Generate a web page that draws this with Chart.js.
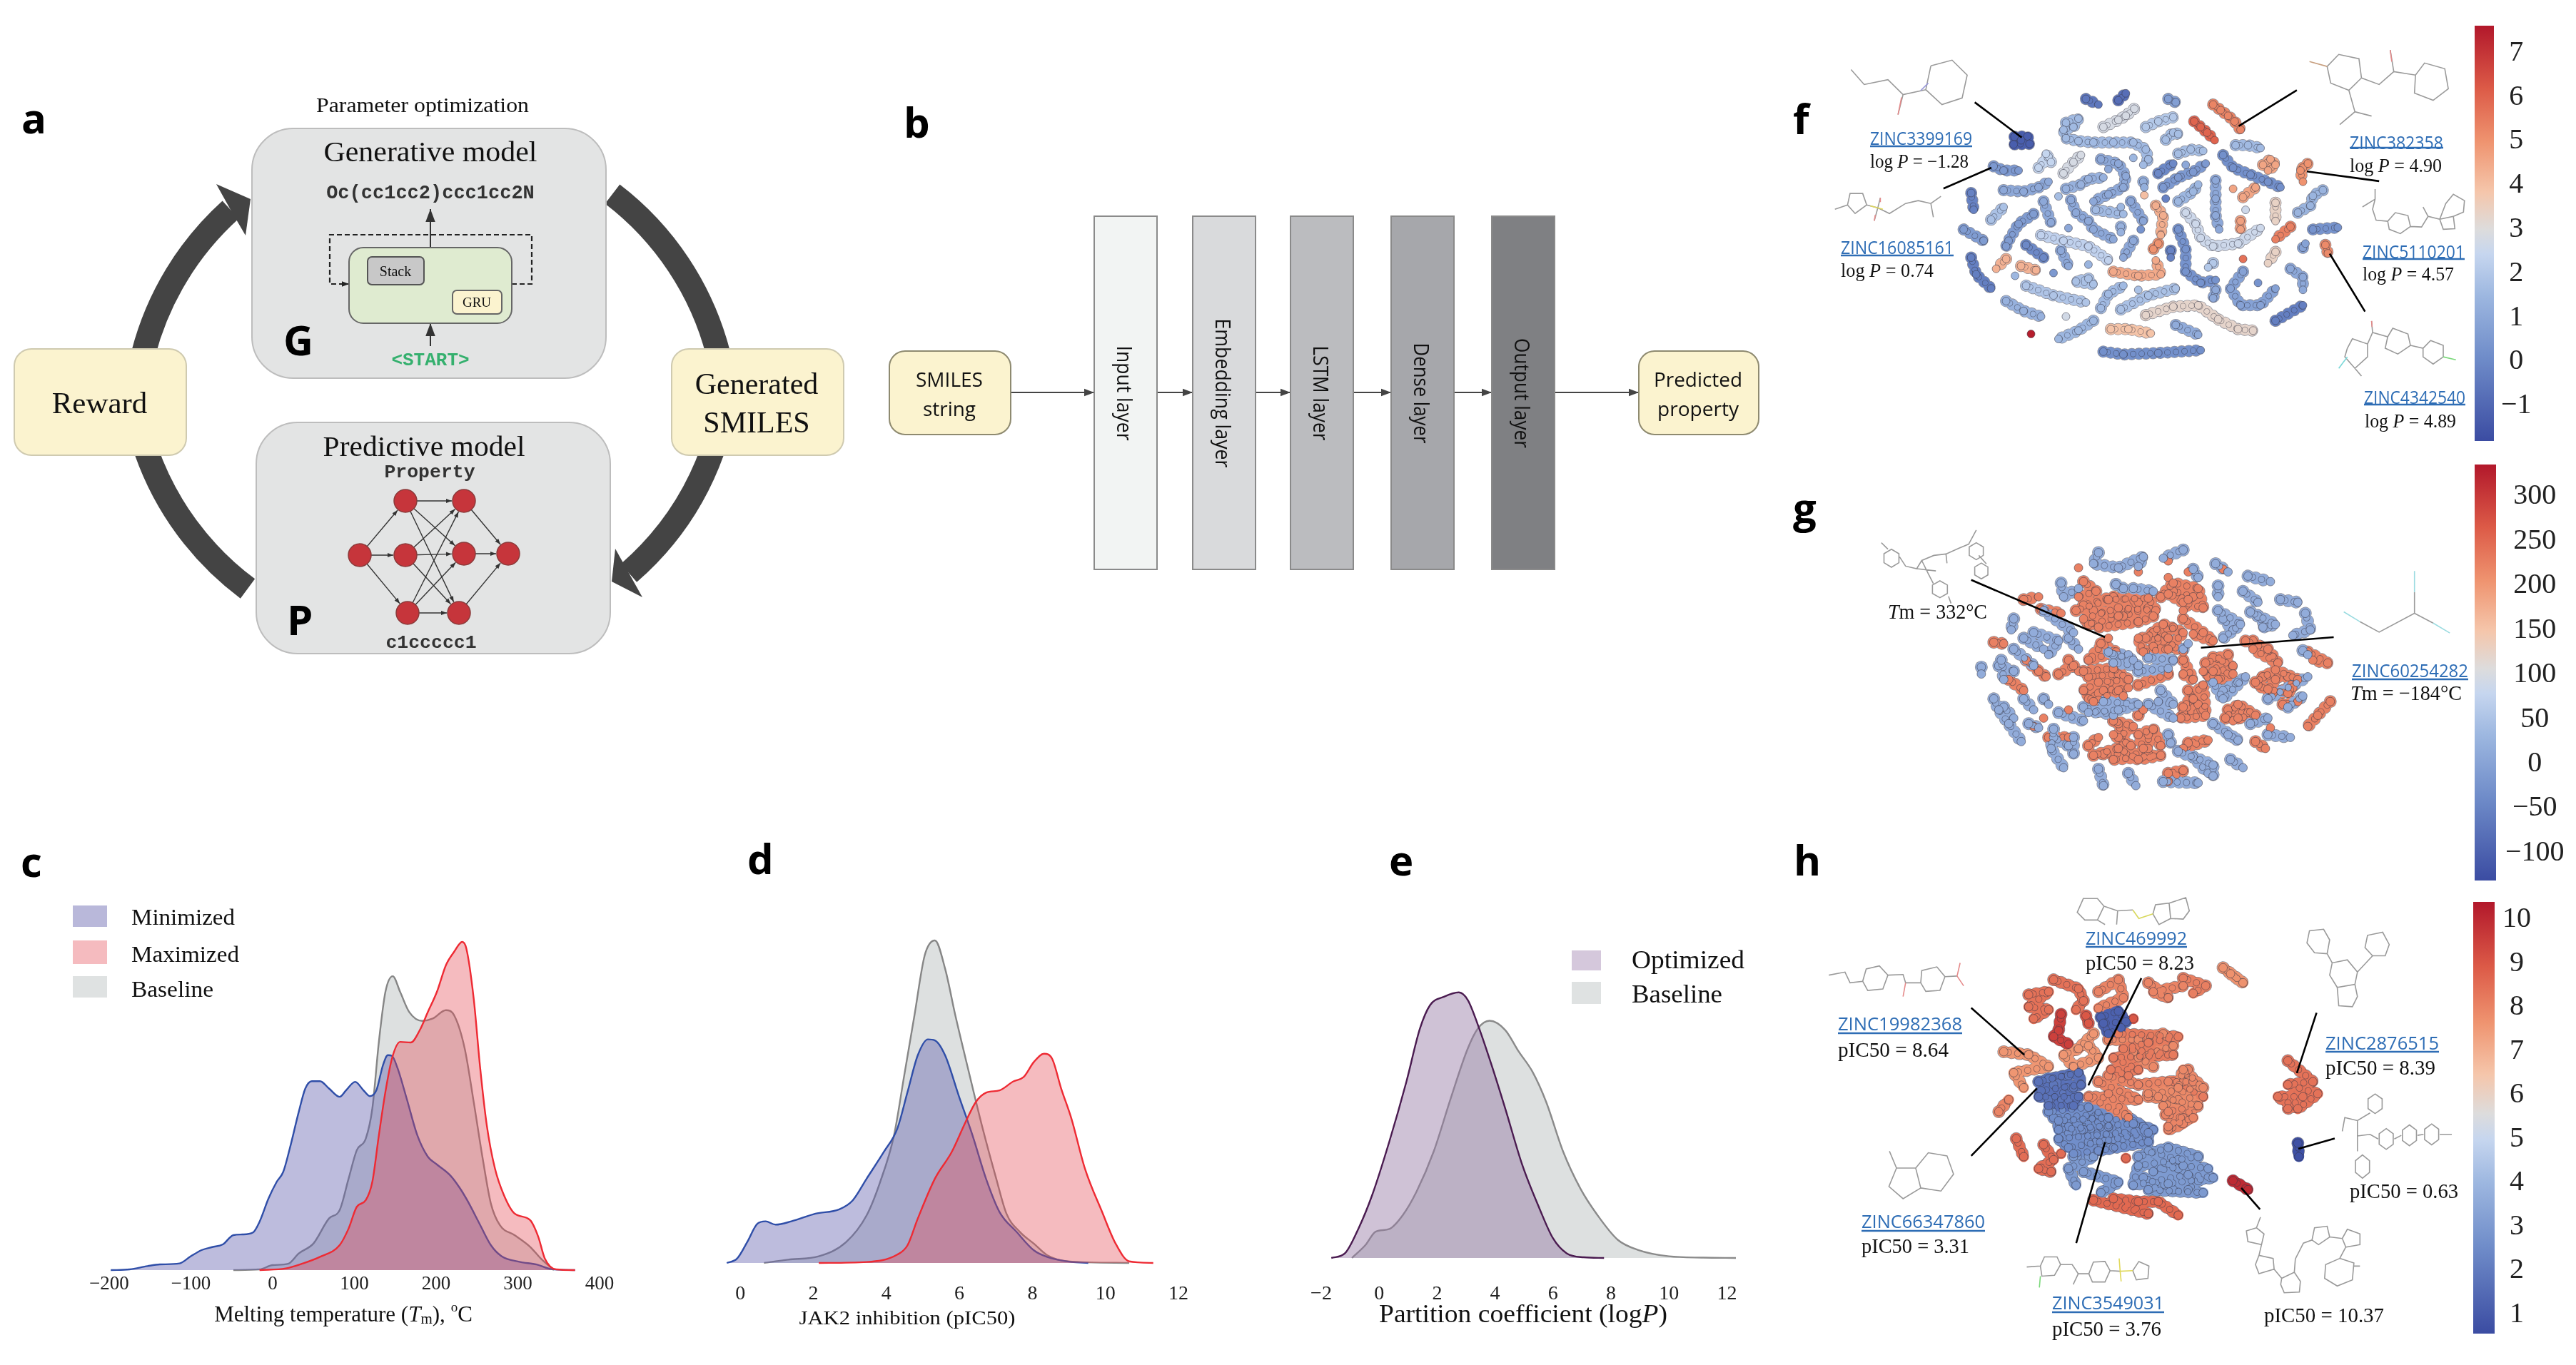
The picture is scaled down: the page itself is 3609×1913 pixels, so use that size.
<!DOCTYPE html>
<html>
<head>
<meta charset="utf-8">
<title>Generative model figure</title>
<script src="https://cdn.jsdelivr.net/npm/chart.js@4/dist/chart.umd.min.js"></script>
<style>
  html, body { margin: 0; background: #fff; }
  #root { position: relative; width: 3609px; height: 1913px; overflow: hidden; }
  #root canvas { position: absolute; }
  #overlay { position: absolute; left: 0; top: 0; pointer-events: none; }
  .mol * { vector-effect: non-scaling-stroke; }
</style>
</head>
<body>
<div id="root"><svg id="overlay" width="3609" height="1913" viewBox="0 0 3609 1913" xmlns="http://www.w3.org/2000/svg"></svg></div>
<script>
// panel c: melting temperature densities
const cTicks = [-200, -100, 0, 100, 200, 300, 400];
const cMinX = [-198,-175,-153,-138,-114,-101,-87,-74,-61,-48,-37,-24,-16,-5,5,13,21,32,40,48,58,69,82,90,101,111,119,127,135,141,146,153,164,177,190,201,217,228,238,254,267,280,302,323,341,370];
const cMinY = [0,2,12,17,20,40,60,69,77,105,107,113,145,215,265,295,365,475,545,567,567,545,520,540,565,540,522,540,615,645,643,605,515,405,340,317,285,250,210,135,75,42,25,17,3,0];
const cMaxX = [-16,16,37,58,82,93,103,114,122,130,138,146,156,169,180,190,201,212,222,232,237,246,254,262,272,283,296,315,325,333,347,370];
const cMaxY = [0,5,20,40,75,125,190,210,265,405,535,635,685,683,720,775,835,915,955,985,965,815,605,435,305,225,170,150,100,35,2,0];
const cBaseX = [-48,-16,0,19,32,50,69,82,93,103,114,122,130,138,147,156,167,183,196,212,222,235,246,257,267,278,296,315,328,344];
const cBaseY = [0,2,15,19,50,80,155,180,275,360,395,485,685,835,882,835,775,748,755,780,765,665,505,335,200,135,105,70,35,0];

// panel d: JAK2 inhibition densities
const dTicks = [0, 2, 4, 6, 8, 10, 12];
const dMinX = [-0.37,-0.09,0.19,0.47,0.69,0.97,1.4,2.06,2.71,3.08,3.46,3.93,4.3,4.58,4.86,5.14,5.33,5.61,5.98,6.36,6.73,7.1,7.57,8.04,8.41,9.07,9.53];
const dMinY = [0,13,63,118,125,115,125,148,161,188,253,333,403,513,623,671,668,623,503,383,253,153,93,38,18,3,0];
const dMaxX = [2.15,3.46,4.3,4.58,4.86,5.33,5.79,6.17,6.45,6.73,7.1,7.48,7.76,8.04,8.32,8.54,8.79,9.07,9.44,9.91,10.28,10.65,11.31];
const dMaxY = [0,3,25,53,133,253,333,423,483,511,518,545,558,603,628,613,523,433,283,153,58,5,0];
const dBaseX = [0.65,1.31,2.15,2.9,3.46,3.83,4.21,4.49,4.77,5.05,5.33,5.61,5.89,6.26,6.64,7.01,7.29,7.66,8.04,8.41,8.97,10.65];
const dBaseY = [0,10,20,63,143,243,383,563,743,923,968,883,743,573,403,253,148,93,58,23,5,0];

// panel e: partition coefficient densities
const eTicks = [-2, 0, 2, 4, 6, 8, 10, 12];
const eOptX = [-1.65,-1.18,-0.71,-0.24,0.35,0.94,1.41,1.76,2.24,2.75,3.06,3.41,3.88,4.35,4.94,5.53,6,6.47,7.06,7.76];
const eOptY = [0,14,89,189,349,529,689,759,784,797,774,699,579,449,279,149,59,14,2,0];
const eBaseX = [-0.94,-0.47,-0.12,0.35,0.82,1.29,1.88,2.47,3.06,3.41,3.81,4.35,4.82,5.29,5.76,6.35,6.94,7.53,8.24,8.94,10,11.18,12.31];
const eBaseY = [0,39,79,87,129,199,319,479,629,689,712,684,619,559,469,319,209,129,54,24,5,1,0];

// colour bars
const fBarTicks = [-1, 0, 1, 2, 3, 4, 5, 6, 7];
const fBarRange = [-1.8, 7.62];
const gBarTicks = [-100, -50, 0, 50, 100, 150, 200, 250, 300];
const gBarRange = [-131, 336];
const hBarTicks = [1, 2, 3, 4, 5, 6, 7, 8, 9, 10];
const hBarRange = [0.57, 10.4];
const colourStops = [[0,'#3b4ca2'],[0.2,'#6f8cc9'],[0.35,'#9db7e0'],[0.45,'#c6d6ef'],[0.51,'#dddcdc'],[0.6,'#f5c6ab'],[0.72,'#ef9470'],[0.85,'#dc5a47'],[1,'#b2182b']];

// panel f: t-SNE strands, logP of each strand, then x,y runs
const fValues = [-0.5,-0.8,0.7,5.3,6,1.6,2.8,2,1.7,1.7,1.6,0.2,4.6,5,1.4,0.3,0.8,5.2,0.5,2.4,2.8,1,0,1,1.5,1,0.5,1.3,1,1.7,1.2,4,-0.2,1.5,1,4.6,4.6,-0.2,1.8,0.6,1,1,1.6,0.9,1.5,4.4,2.6,2.6,3.4,4.7,5.4,1,1.3,0.3,2.3,0.6,0,1,1.4,1,5,-0.2,0.3,5.7,3.4,2,4.3,4.3,1.5,0.5,4.5,-0.3,1.8,1.9,1.3,2.7,1.6,1.8,1.8,1,0.8,0.3,1,-0.3,3.3,1.5,3.9,1.1,7.5,0.2,-1.28];
const fPaths = [
  [595,285,620,305],[660,290,675,265],[760,285,775,297],[850,305,865,325,880,345,893,365,905,395],
  [812,365,825,385,838,405,853,432],[555,370,580,355,570,385,550,395,555,425,580,435,610,440,650,440,690,440,715,465,720,500,710,520],
  [630,385,660,360,675,345,692,320],[715,385,740,365,770,350],[755,430,770,405,780,410],[780,480,805,465,830,470],
  [895,450,920,450,945,460],[870,485,890,530,925,555,960,580,985,600],[950,520,965,500,975,520,960,540],
  [1030,530,1040,515,1025,540,1030,580],[1020,690,1045,665,1050,630,1070,610],[1050,750,1100,743],[1030,815,1035,800],[1075,805,1080,835],
  [410,525,430,540,460,540],[500,530,520,490,525,510,515,480],[550,550,570,510,585,485],[625,500,660,515,675,560,670,600,640,625,610,650],
  [740,550,770,515],[795,520],[690,495],[640,535],[750,600,780,565,810,545,835,515],[555,605,585,590,600,570,630,565],
  [430,610,470,615,500,600,520,580],[540,632],[710,580,712,600],[712,628],[755,640],[780,650,810,615,820,590],
  [855,575,855,640,855,700,862,750],[890,605],[910,635,935,600],[365,620,370,680],[405,715,430,670],[490,695,460,730,440,790,435,810],
  [510,650,525,725],[565,645,575,690,600,720,610,750,650,785],[615,680,670,695],[685,650,710,720],[665,670],[735,665,750,700,745,770],
  [795,690,815,730,825,780,850,810,900,800,945,745],[915,680],[975,655,975,720],[905,720,905,750],[1005,740,975,785],[560,745],
  [665,740,665,760],[705,750],[505,770,550,790,600,810,640,860],[350,750,390,790],[475,805,510,850],[545,825,560,880],[600,875],
  [690,790,670,850],[740,800,730,820],[765,825,765,850],[780,750,795,820,795,900,825,940,855,930],[910,855],[975,830,960,870],[850,870,840,885],
  [435,855,415,890],[465,880,495,895],[453,915],[530,905],[650,900,700,915,745,910,735,860],[365,850,375,910,405,960],[600,925,575,935,610,945],
  [475,950,530,985,595,1010],[435,1005,470,1040,505,1060],[555,1060],[625,1030,640,980,670,950],[665,1035,720,985,775,960],[700,965],
  [855,965,850,995],[910,900,885,960,905,1020,945,1020,975,960],[940,940],[1005,890,1030,920,1030,965],[975,1075,1030,1020],
  [715,1055,770,1025,820,1020,860,1070,900,1105,930,1110],[610,1075,580,1110,540,1140],[645,1105,680,1105,725,1120],[775,1090,820,1125],
  [485,1122],[630,1185,670,1195,740,1190,825,1180],[452,420,478,418,482,445,450,447,465,432]
];

// panel g: red and blue groups of molecules
const gRedValue = 225;
const gBlueValue = 15;
const gBluePaths = [
  [620,330,610,370,660,385,710,345,700,380],[790,320,750,350],[810,390,820,420],[855,370,880,400],[920,415,965,435],[545,440,550,490,580,460],
  [655,445,670,460],[690,460,730,470],[860,450,860,490],[910,470,940,510],[985,500,1020,510],[925,545,975,590,950,600],[860,540,905,590,870,640],
  [1035,550,1045,610,1010,630],[450,570,445,610],[490,620,540,650,520,700],[510,540,570,620],[450,680,490,740],[425,720,430,790],[385,745,385,770],
  [1030,685,1040,700],[640,690,690,720,650,730,700,740],[720,710,770,720],[790,680,800,660],[700,760,760,750],[850,800,870,860,915,780],
  [960,860,1040,780],[1000,890,1030,850],[630,870,700,880,660,900,600,910],[745,830,770,880,740,870],[410,860,420,900,440,950,465,1015],
  [470,860,490,900],[510,860,520,880],[540,910,590,940],[480,950,500,965],[530,970,525,1040,550,1110],[570,1000,570,1060],[760,990,765,1020],
  [850,950,900,1010,880,990],[960,990,1005,1000],[925,950,960,930],[780,1050,850,1100,850,1140],[885,1080,910,1110],[620,1115,630,1175],
  [680,1130,695,1175],[750,1160,820,1165],[650,700,680,700],[560,640,580,680],[870,570,890,610],[940,560,960,600],[470,640,510,680],
  [420,740,450,760],[590,890,650,920],[870,830,900,800],[720,880,770,930],[530,1000,560,1030],[810,1070,840,1130],[430,890,450,930]
];
const gRedPaths = [
  [575,540,640,500,720,495,735,540,660,530,590,570,620,600,700,580,730,560],[745,490,770,440,820,460,830,530,790,510,760,480,800,500],
  [715,640,750,590,790,620,760,680,710,690,700,640,760,640],[790,570,830,620,850,650,810,625],[590,760,650,750,680,790,620,800,590,830,610,870,660,830,670,850],
  [835,730,880,700,850,760,890,770,860,790,830,760],[790,720,810,790,790,770],[935,800,975,755,1020,790,1000,840,960,825,975,790],
  [790,890,830,810,835,920,785,930,810,860],[875,930,900,880,935,920,900,930],[650,940,690,960,660,1000,685,1030,650,990],[710,1040,700,990,730,970,745,1030],
  [610,1065,660,1040,700,1080,745,1065,650,1080],[600,1030,620,1000],[590,435,615,470,580,490],[915,650,960,680,980,730,930,680],[1040,690,1080,730,1050,720],
  [1085,870,1060,920,1040,960],[410,655,430,660],[935,1015,955,1040],[625,660,655,690,600,720,640,640],[505,535,545,550],[470,500,500,490],[440,790,470,830],
  [475,720,500,760,515,780],[700,810,760,770],[700,920,710,900],[800,1020,840,1010,790,1040],[760,1130,790,1120,760,1160],[990,880,1020,870],[965,965],
  [520,1000,560,1000],[510,930],[490,960],[560,900],[760,420],[800,400],[870,390],[700,400],[580,385],[760,360],
  [590,520,650,490,700,510,660,560,610,540],[600,590,670,560,720,530],[770,470,810,490,790,540],[730,620,770,600,730,670],[750,650,790,690],
  [600,780,660,770,630,830,680,820],[620,840,600,860],[850,710,890,740,840,780],[950,780,1000,780,1010,820,970,840,940,810],[800,830,820,880,790,910,830,900],
  [880,900,920,910,890,940],[660,950,670,1020],[720,990,720,1040],[630,1060,720,1060],[930,650,970,710],[540,770,570,740],[560,720,580,760]
];

// panel h: JAK2 map, pIC50 of each group
const hValues = [1.7,2.6,3,3,3,1.2,0.7,8.4,8.4,8,8,8.1,7.7,9.5,9,9,7.6,8.2,7.6,8,8,7.9,8,8.5,8.5,8.5,8.6,8.6,10,8.4,7.9,8,8,7.9,8,8.2,1.9,2.6,2.7,2.6,3,3,3];
const hPaths = [
  [500,640,580,610,585,650,505,670,500,690,580,690,570,720,520,720],
  [520,740,600,725,640,760,540,770,540,800,690,780,730,800,540,830,560,860,720,810,720,840,620,870,570,880],
  [570,890,610,890,560,930,575,985],[590,940,660,975,625,1010],
  [700,890,760,860,820,890,700,920,690,985,800,950,850,960,760,980,720,1000,830,1010],
  [625,425,660,405,675,440,630,445,640,480,665,460],[1020,845,1022,890],
  [480,350,520,340,480,390,520,400,490,430],[530,300,580,330,590,370,575,400],[620,340,660,300,670,360,620,395],
  [720,310,760,360,730,340,790,320],[790,295,835,320,810,345],[870,260,910,310,885,280],[545,415,540,470,530,490,560,515],[595,420,600,445],[690,430],
  [610,480,580,530,550,550,570,590,620,560,600,520],[660,480,780,490,720,510,670,530,770,550,650,560,700,600,645,600,680,620],
  [430,540,480,550,520,590,450,610,470,660],[420,740,440,700],[620,640,700,700,600,690,680,760,640,680],
  [720,680,830,660,790,600,780,660,820,720,740,690],[760,740,820,720,760,790,810,760],[455,830,470,890],[510,850,530,900,500,930,525,940],[545,880],[675,895],
  [610,1035,720,1080,650,1030,700,1040,740,1040,780,1085],[890,970,920,1000],[1000,570,1050,640,1000,650,1060,680,1020,730,980,690,1030,690,1000,730],
  [640,500,700,500,750,480,770,520,700,560,730,590,690,540],[640,620,700,650,760,640,810,640],[800,600,790,640],[720,690,780,700,750,720],
  [755,750,790,760,760,800,790,780],[770,640,830,690],
  [520,630,560,620,530,650,570,660,520,700,560,700],[530,760,620,750,560,790,680,760,710,790],[560,810,640,790,700,830,600,840,650,860],[590,800,640,820],
  [720,870,780,900,730,940,790,920,840,930],[710,960,770,1000],[780,930,820,970,800,1000]
];

const serif = '"Liberation Serif", serif';
const root = document.getElementById('root');

function addCanvas(left, top, width, height) {
  const c = document.createElement('canvas');
  c.width = width;
  c.height = height;
  c.style.left = left + 'px';
  c.style.top = top + 'px';
  root.insertBefore(c, root.firstChild);
  return c;
}

function zipXY(xs, ys) {
  return xs.map((x, i) => ({ x: x, y: ys[i] }));
}

// density panel, area is the rectangle the axes have to fill
function densityChart(area, xMin, xMax, ticks, tickSize, tickPad, axisH, series) {
  const pad = 70;
  const c = addCanvas(area.x - pad, area.y - pad, area.w + 2 * pad, area.h + pad + axisH);
  return new Chart(c, {
    type: 'scatter',
    data: {
      datasets: series.map(s => ({
        label: s.label,
        data: zipXY(s.x, s.y),
        showLine: true,
        pointRadius: 0,
        cubicInterpolationMode: 'monotone',
        borderColor: s.line,
        borderWidth: 2.4,
        backgroundColor: s.fill,
        fill: 'origin',
        clip: false
      }))
    },
    options: {
      responsive: false,
      animation: false,
      layout: { padding: { left: pad, right: pad, top: pad, bottom: 0 } },
      plugins: { legend: { display: false }, tooltip: { enabled: false } },
      scales: {
        x: {
          type: 'linear', min: xMin, max: xMax,
          grid: { display: false, drawTicks: false },
          border: { display: false },
          ticks: {
            color: '#222', padding: tickPad, maxRotation: 0, autoSkip: false,
            font: { family: serif, size: tickSize },
            callback: v => String(v).replace('-', '\u2212')
          },
          afterBuildTicks: ax => { ax.ticks = ticks.map(v => ({ value: v })); },
          afterFit: ax => { ax.height = axisH; ax.paddingLeft = 0; ax.paddingRight = 0; }
        },
        y: { display: false, min: 0, max: 1000 }
      }
    }
  });
}

function colourAt(t) {
  const hex = s => [1, 3, 5].map(i => parseInt(s.substr(i, 2), 16));
  for (let i = 1; i < colourStops.length; i++) {
    if (t <= colourStops[i][0]) {
      const [t0, c0] = colourStops[i - 1];
      const [t1, c1] = colourStops[i];
      const k = (t - t0) / (t1 - t0);
      const a = hex(c0), b = hex(c1);
      return `rgb(${a.map((v, j) => Math.round(v + (b[j] - v) * k)).join(',')})`;
    }
  }
  return colourStops[colourStops.length - 1][1];
}

function colourBar(x, y, w, h, range, ticks, padding) {
  const axisW = 110;
  const pad = 30;
  const c = addCanvas(x, y - pad, w + axisW, h + 2 * pad);
  return new Chart(c, {
    type: 'bar',
    data: {
      labels: [''],
      datasets: [{
        data: [range],
        barPercentage: 1,
        categoryPercentage: 1,
        backgroundColor: ctx => {
          const a = ctx.chart.chartArea;
          if (!a) return '#ccc';
          const g = ctx.chart.ctx.createLinearGradient(0, a.bottom, 0, a.top);
          colourStops.forEach(s => g.addColorStop(s[0], s[1]));
          return g;
        }
      }]
    },
    options: {
      responsive: false,
      animation: false,
      layout: { padding: { top: pad, bottom: pad } },
      plugins: { legend: { display: false }, tooltip: { enabled: false } },
      scales: {
        x: { display: false },
        y: {
          position: 'right', min: range[0], max: range[1],
          grid: { display: false, drawTicks: false },
          border: { display: false },
          ticks: {
            color: '#222', padding: padding, crossAlign: 'center', autoSkip: false,
            font: { family: serif, size: 40 },
            callback: v => String(v).replace('-', '\u2212')
          },
          afterBuildTicks: ax => { ax.ticks = ticks.map(v => ({ value: v })); },
          afterFit: ax => { ax.width = axisW; ax.paddingTop = 0; ax.paddingBottom = 0; }
        }
      }
    }
  });
}

// beaded strands: thick dotted lines, outline below and colour on top, with a
// finer dotted pass inside so the strand reads as a chain of small circles
function strandChart(rect, paths, colours, opt) {
  const c = addCanvas(rect.x, rect.y, rect.w, rect.h);
  const edge = 'rgba(55,55,70,0.55)';
  const toPts = p => {
    const pts = [];
    for (let i = 0; i < p.length; i += 2) pts.push({ x: p[i], y: p[i + 1] });
    return pts;
  };
  const line = (p, col, width, gap, offset) => ({
    data: toPts(p), showLine: true, borderColor: col, borderWidth: width, pointRadius: 0,
    borderDash: gap ? [0.01, gap] : [], borderDashOffset: offset, borderCapStyle: 'round', borderJoinStyle: 'round'
  });
  const top = [], middle = [], under = [];
  paths.forEach((p, i) => {
    const col = colours[i];
    top.push(Object.assign(line(p, col, opt.inner - 1.6, opt.innerGap, opt.innerGap / 2), {
      pointRadius: opt.inner / 2 + 1, pointBackgroundColor: col, pointBorderColor: edge, pointBorderWidth: 1
    }));
    top.push(line(p, edge, opt.inner, opt.innerGap, opt.innerGap / 2));
    middle.push(line(p, col, opt.dia - 1.6, opt.gap, 0));
    under.push(line(p, edge, opt.dia, opt.gap, 0));
    if (opt.under) under.push(line(p, col, opt.under, 0, 0));
  });
  return new Chart(c, {
    type: 'scatter',
    data: { datasets: top.concat(middle, under) },
    options: {
      responsive: false,
      animation: false,
      layout: { padding: 0 },
      plugins: { legend: { display: false }, tooltip: { enabled: false } },
      scales: {
        x: { display: false, min: 0, max: 1568 },
        y: { display: false, min: 0, max: 1568, reverse: true }
      }
    }
  });
}

// ---- density charts
densityChart({ x: 129.8, y: 1313.2, w: 710, h: 467.5 }, -220, 400, cTicks, 27, 4, 46, [
  { label: 'Maximized', x: cMaxX, y: cMaxY, line: '#ee2a33', fill: 'rgba(228,71,82,0.37)' },
  { label: 'Minimized', x: cMinX, y: cMinY, line: '#2f4ea8', fill: 'rgba(95,92,173,0.41)' },
  { label: 'Baseline', x: cBaseX, y: cBaseY, line: '#868686', fill: 'rgba(142,152,153,0.3)' }
]);
densityChart({ x: 986.2, y: 1302.9, w: 665.3, h: 467.5 }, -1, 12, dTicks, 28, 27, 75, [
  { label: 'Maximized', x: dMaxX, y: dMaxY, line: '#ee2a33', fill: 'rgba(228,71,82,0.37)' },
  { label: 'Minimized', x: dMinX, y: dMinY, line: '#2f4ea8', fill: 'rgba(95,92,173,0.41)' },
  { label: 'Baseline', x: dBaseX, y: dBaseY, line: '#868686', fill: 'rgba(142,152,153,0.3)' }
]);
densityChart({ x: 1850.5, y: 1296.4, w: 609.8, h: 467.5 }, -2, 13, eTicks, 28, 34, 85, [
  { label: 'Optimized', x: eOptX, y: eOptY, line: '#4a1b50', fill: 'rgba(148,120,164,0.45)' },
  { label: 'Baseline', x: eBaseX, y: eBaseY, line: '#8a8a8a', fill: 'rgba(142,152,153,0.3)' }
]);

// ---- colour bars
colourBar(3467, 36, 27, 582, fBarRange, fBarTicks, 10);
colourBar(3467, 651, 30, 583, gBarRange, gBarTicks, 13);
colourBar(3465, 1264, 30, 605, hBarRange, hBarTicks, 11);

// ---- t-SNE maps
const norm = (v, r) => (v - r[0]) / (r[1] - r[0]);
strandChart({ x: 2500, y: 20, w: 1109, h: 630 }, fPaths, fValues.map(v => colourAt(norm(v, fBarRange))),
  { dia: 17, gap: 10, inner: 9, innerGap: 12 });
const gPaths = gBluePaths.concat(gRedPaths);
const gColours = gBluePaths.map(() => colourAt(norm(gBlueValue, gBarRange))).concat(gRedPaths.map(() => colourAt(norm(gRedValue, gBarRange))));
strandChart({ x: 2500, y: 640, w: 1109, h: 620 }, gPaths, gColours, { dia: 18, gap: 11, inner: 10, innerGap: 13 });
strandChart({ x: 2500, y: 1240, w: 1109, h: 673 }, hPaths, hValues.map(v => colourAt(norm(v, hBarRange))),
  { dia: 18, gap: 11, inner: 10, innerGap: 13, under: 15 });

// ---- diagrams, labels and structures on top
const T = (x, y, s, o = {}) => `<text x="${x}" y="${y}" font-family='${o.font || serif}' font-size="${o.size || 24}" fill="${o.fill || '#111'}"` +
  ` text-anchor="${o.anchor || 'start'}" dominant-baseline="${o.base || 'central'}"${o.weight ? ` font-weight="${o.weight}"` : ''}` +
  `${o.len ? ` textLength="${o.len}" lengthAdjust="spacingAndGlyphs"` : ''}${o.rot ? ` transform="rotate(${o.rot} ${x} ${y})"` : ''}>${s}</text>`;
const R = (x, y, w, h, r, fill, stroke) => `<rect x="${x}" y="${y}" width="${w}" height="${h}" rx="${r}" fill="${fill}" stroke="${stroke}" stroke-width="2"/>`;
const sans = '"Open Sans", sans-serif';
const mono = '"Liberation Mono", monospace';
const letter = (x, y, s) => T(x, y, s, { font: sans, size: 58, weight: 700, fill: '#000', base: 'auto' });
const arrow = (x1, y1, x2, y2, w = 2, col = '#333', h = 9) => {
  const a = Math.atan2(y2 - y1, x2 - x1);
  const p = (d, s) => `${x2 - d * Math.cos(a) - s * Math.sin(a)},${y2 - d * Math.sin(a) + s * Math.cos(a)}`;
  return `<line x1="${x1}" y1="${y1}" x2="${x2}" y2="${y2}" stroke="${col}" stroke-width="${w}"/><polygon points="${x2},${y2} ${p(2 * h, h * 0.75)} ${p(2 * h, -h * 0.75)}" fill="${col}"/>`;
};
const zinc = (x, y, s, len, ul) => T(x, y, s, { font: sans, size: 25, fill: '#2e6db5', len: len }) +
  `<line x1="${x}" x2="${x + len}" y1="${ul}" y2="${ul}" stroke="#2e6db5" stroke-width="2.5"/>`;
const logP = v => `log <tspan font-style="italic">P</tspan> = ${v}`;
const Tm = v => `<tspan font-style="italic">T</tspan>m = ${v}`;
const hexD = (cx, cy, rx, ry) => [[0, -1], [0.87, -0.5], [0.87, 0.5], [0, 1], [-0.87, 0.5], [-0.87, -0.5]].map((p, i) => `${i ? 'L' : 'M'}${cx + p[0] * rx} ${cy + p[1] * ry}`).join('') + 'Z';
const mol = (m, d, extra = '', lead = '') => `<g class="mol" transform="${m}" fill="none" stroke="#9a9a9a" stroke-width="1.6"><path d="${d}"/>${extra}<path d="${lead}" stroke="#000" stroke-width="2.6"/></g>`;
const tint = (col, d) => `<path d="${d}" stroke="${col}"/>`;
const fM = 'translate(2500,20) scale(0.7073,0.4018)';
const gM = 'translate(2500,640) scale(0.7073,0.3954)';
const hM = 'translate(2500,1240) scale(0.7073,0.4292)';

let svg = '';

// ring arrows
svg += `<g fill="none" stroke="#444" stroke-width="34">
  <path d="M201 495A410 410 0 0 1 323 294"/><path d="M858 272A410 410 0 0 1 1006 495"/>
  <path d="M998 632A410 410 0 0 1 881 803"/><path d="M205 632A410 410 0 0 0 347 825"/></g>
  <g fill="#444"><polygon points="303,258 351,279 344,330 323,294"/><polygon points="862,769 900,837 857,815"/></g>`;

// panel a boxes
svg += R(353, 180, 496, 350, 58, '#e3e4e4', '#bdbdbd') + R(359, 592, 496, 324, 58, '#e3e4e4', '#bdbdbd');
svg += R(20, 489, 241, 149, 24, '#fbf3cf', '#cfcab0') + R(941, 489, 241, 149, 24, '#fbf3cf', '#cfcab0');
svg += T(592, 147, 'Parameter  optimization', { size: 29, anchor: 'middle', len: 298 });
svg += T(603, 212, 'Generative model', { size: 40, anchor: 'middle', len: 299 });
svg += T(603, 271, 'Oc(cc1cc2)ccc1cc2N', { font: mono, size: 27, weight: 700, anchor: 'middle', fill: '#333' });
svg += T(139.5, 564, 'Reward', { size: 43, anchor: 'middle' });
svg += T(1060, 538, 'Generated', { size: 42, anchor: 'middle' }) + T(1060, 592, 'SMILES', { size: 42, anchor: 'middle' });
svg += arrow(603, 347, 603, 293) + arrow(603, 485, 603, 453);
svg += `<path d="M717 398H745V329H462V398H476" fill="none" stroke="#222" stroke-width="2.2" stroke-dasharray="7 4"/>` + arrow(476, 398, 489, 398, 2, '#222', 5);
svg += R(489, 347, 228, 106, 20, '#dfebd0', '#666');
svg += R(515, 360, 79, 39, 6, '#c8c8c8', '#555') + T(554, 380, 'Stack', { size: 20, anchor: 'middle' });
svg += R(634, 407, 69, 33, 6, '#fbf3cf', '#666') + T(668, 423, 'GRU', { size: 19, anchor: 'middle' });
svg += T(603, 505, '&lt;START&gt;', { font: mono, size: 26, weight: 700, anchor: 'middle', fill: '#35b06e' });
svg += letter(397, 498, 'G') + letter(402, 890, 'P');
svg += T(594, 625, 'Predictive model', { size: 40, anchor: 'middle', len: 283 });
svg += T(602, 662, 'Property', { font: mono, size: 26.5, weight: 700, anchor: 'middle', fill: '#333' });
svg += T(604, 901, 'c1ccccc1', { font: mono, size: 26.5, weight: 700, anchor: 'middle', fill: '#333' });

// small network in the predictive box
const netNodes = { i: [504, 778], a: [568, 702], b: [568, 778], c: [571, 859], d: [650, 702], e: [650, 776], f: [643, 859], o: [712, 776] };
const netEdges = ['ia', 'ib', 'ic', 'ad', 'ae', 'af', 'bd', 'be', 'bf', 'cd', 'ce', 'cf', 'do', 'eo', 'fo'];
netEdges.forEach(k => {
  const [x1, y1] = netNodes[k[0]], [x2, y2] = netNodes[k[1]];
  const l = Math.hypot(x2 - x1, y2 - y1);
  svg += arrow(x1, y1, x2 - (x2 - x1) / l * 17, y2 - (y2 - y1) / l * 17, 1.4, '#333', 4);
});
Object.values(netNodes).forEach(n => { svg += `<circle cx="${n[0]}" cy="${n[1]}" r="16" fill="#c6353b" stroke="#8b3a3a" stroke-width="1.5"/>`; });

// panel b
const layerX = [1533, 1671, 1808, 1949, 2090];
const layerFill = ['#f2f4f3', '#d9dadc', '#bbbcbf', '#a6a7ab', '#7f8083'];
const layerName = ['Input layer', 'Embedding layer', 'LSTM layer', 'Dense layer', 'Output layer'];
const layerLen = [133, 209, 133, 141, 154];
const arrowEnds = [1416, 1533, 1621, 1671, 1758, 1808, 1895, 1949, 2037, 2090, 2178, 2296];
for (let i = 0; i < arrowEnds.length; i += 2) svg += arrow(arrowEnds[i], 550, arrowEnds[i + 1], 550, 2.2, '#444', 7);
layerX.forEach((x, i) => {
  svg += R(x, 303, 88, 495, 0, layerFill[i], '#8a8a8a');
  svg += T(x + 43, 551, layerName[i], { font: sans, size: 29, anchor: 'middle', rot: 90, len: layerLen[i] });
});
svg += R(1246, 492, 170, 117, 22, '#fbf3cf', '#8e8a70') + R(2296, 492, 168, 117, 22, '#fbf3cf', '#8e8a70');
svg += T(1330, 531, 'SMILES', { font: sans, size: 27, anchor: 'middle', len: 94 }) + T(1330, 572, 'string', { font: sans, size: 27, anchor: 'middle', len: 74 });
svg += T(2379, 531, 'Predicted', { font: sans, size: 28, anchor: 'middle', len: 124 }) + T(2379, 572, 'property', { font: sans, size: 28, anchor: 'middle', len: 114 });

// panel letters
svg += letter(30, 187, 'a') + letter(1266, 193, 'b') + letter(29, 1229, 'c') + letter(1047, 1225, 'd') + letter(1946, 1227, 'e');
svg += letter(2512, 188, 'f') + letter(2512, 733, 'g') + letter(2513, 1227, 'h');

// legends and axis titles for c, d, e
const legend = (x, y, w, h, fill) => `<rect x="${x}" y="${y}" width="${w}" height="${h}" fill="${fill}"/>`;
svg += legend(102, 1269, 48, 30, '#b9b8da') + legend(102, 1318, 48, 33, '#f5bbbf') + legend(102, 1368, 48, 30, '#dfe2e2');
svg += T(184, 1285, 'Minimized', { size: 32, len: 145 }) + T(184, 1337, 'Maximized', { size: 32, len: 151 }) + T(184, 1386, 'Baseline', { size: 32, len: 115 });
svg += legend(2202, 1332, 41, 28, '#d5c8dc') + legend(2202, 1376, 41, 31, '#dfe2e2');
svg += T(2286, 1345, 'Optimized', { size: 36, len: 158 }) + T(2286, 1393, 'Baseline', { size: 36, len: 127 });
svg += T(481, 1841, 'Melting temperature (<tspan font-style="italic">T</tspan><tspan dy="7" font-size="21">m</tspan><tspan dy="-7">), </tspan><tspan dy="-10" font-size="19">o</tspan><tspan dy="10">C</tspan>', { size: 31, anchor: 'middle' });
svg += T(1271, 1846, 'JAK2 inhibition (pIC50)', { size: 28, anchor: 'middle', len: 303 });
svg += T(2134, 1841, 'Partition coefficient (log<tspan font-style="italic">P</tspan>)', { size: 35, anchor: 'middle', len: 404 });

// panel f text
const logSize = 27;
svg += zinc(2620, 193, 'ZINC3399169', 143, 205) + T(2620, 226, logP('\u22121.28'), { size: logSize, len: 138 });
svg += zinc(3292, 199, 'ZINC382358', 131, 207) + T(3292, 232, logP('4.90'), { size: logSize, len: 129 });
svg += zinc(2579, 346, 'ZINC16085161', 158, 358) + T(2579, 379, logP('0.74'), { size: logSize, len: 130 });
svg += zinc(3310, 352, 'ZINC5110201', 143, 363) + T(3310, 384, logP('4.57'), { size: logSize, len: 128 });
svg += zinc(3312, 556, 'ZINC4342540', 142, 567) + T(3313, 590, logP('4.89'), { size: logSize, len: 128 });

// panel g text
svg += T(2645, 857, Tm('332\u00b0C'), { size: 29, len: 139 });
svg += zinc(3295, 939, 'ZINC60254282', 163, 952) + T(3293, 971, Tm('\u2212184\u00b0C'), { size: 29, len: 156 });

// panel h text
const pic = v => `pIC50 = ${v}`;
svg += zinc(2922, 1314, 'ZINC469992', 142, 1327) + T(2922, 1349, pic('8.23'), { size: 29, len: 152 });
svg += zinc(2575, 1434, 'ZINC19982368', 174, 1448) + T(2575, 1471, pic('8.64'), { size: 29, len: 155 });
svg += zinc(3258, 1461, 'ZINC2876515', 159, 1474) + T(3258, 1496, pic('8.39'), { size: 29, len: 154 });
svg += T(3292, 1669, pic('0.63'), { size: 29, len: 152 });
svg += zinc(2608, 1711, 'ZINC66347860', 173, 1725) + T(2608, 1746, pic('3.31'), { size: 29, len: 151 });
svg += zinc(2875, 1825, 'ZINC3549031', 157, 1839) + T(2875, 1862, pic('3.76'), { size: 29, len: 153 });
svg += T(3172, 1843, pic('10.37'), { size: 29, len: 168 });

// structures and leader lines
svg += mol(fM, 'M132 193L158 245L205 228L235 280L280 263M290 180L332 160L362 212L352 292L312 315L280 263L290 180M235 280L225 350',
  tint('#e58a8a', 'M232 290L225 350') + tint('#9a9ad8', 'M270 266L285 240'),
  'M377 307L470 430M1015 265L900 390M315 608L410 535M1178 582L1035 548M1150 1037L1080 835');
svg += mol(fM, 'M1075 182L1098 140L1138 155L1143 222L1118 265L1082 240ZM1143 222L1178 245L1207 200L1250 212L1268 170L1308 190L1315 260L1285 300L1248 275L1250 212M1207 200L1200 125M1118 265L1130 340L1100 385M1130 340L1163 355',
  tint('#c8a080', 'M1040 165L1075 182') + tint('#e58a8a', 'M1203 165L1200 125'));
svg += mol(fM, 'M125 665L130 625L155 625L163 665L140 695ZM100 680L125 665M163 665L185 675L208 695L240 660L265 650L290 660L310 635M290 660L295 708M185 675L190 640M185 675L178 720',
  tint('#e0d85a', 'M170 668L195 680') + tint('#e58a8a', 'M190 655L190 640M180 700L178 720'));
svg += mol(fM, 'M1170 610L1170 645L1145 672M1170 645L1165 680L1172 718L1195 722L1210 692L1235 702L1240 740L1220 765L1198 750L1195 722M1240 740L1262 742L1275 705L1298 715M1275 705L1265 672M1298 715L1305 750L1328 748L1325 705L1298 715M1298 715L1310 660L1325 628L1347 650L1345 690L1325 705');
svg += mol(fM, 'M1115 1165L1125 1132L1155 1150L1155 1195L1130 1235L1110 1195ZM1155 1150L1165 1110L1195 1125L1205 1095L1235 1115L1240 1155L1215 1185L1190 1165L1195 1125M1165 1110L1163 1070M1240 1155L1265 1165L1280 1138L1305 1155L1305 1195L1285 1220L1265 1195L1265 1165M1130 1235L1143 1262',
  tint('#e58a8a', 'M1164 1090L1163 1070') + tint('#7ad87a', 'M1305 1195L1330 1205') + tint('#7ad8d8', 'M1115 1195L1098 1235'));

svg += mol(gM, 'M192 305L205 328M228 355L240 388L262 397L272 368L296 350L320 345L345 325L365 310L380 260M272 368L285 415L295 450M320 345L322 378M262 397L300 405M385 350L400 380' + hexD(212, 360, 17, 32) + hexD(380, 335, 16, 30) + hexD(390, 405, 15, 28) + hexD(308, 470, 17, 30) + 'M325 495L330 520',
  '', 'M370 437L635 640M1088 640L825 677');
svg += mol(gM, 'M1248 480L1248 555L1178 622L1140 585M1248 555L1285 590', tint('#9adbe0', 'M1248 405L1248 480M1140 585L1108 550M1285 590L1318 625'));

svg += mol(hM, 'M88 295L120 285L130 320L155 315L162 275L188 265L205 295L195 340L165 345L155 315M205 295L235 293L240 320L270 320L272 280L302 268L318 300L308 345L280 348L270 320M318 300L342 298',
  tint('#e58a8a', 'M342 298L348 255M342 298L355 330M240 320L235 365'),
  'M370 402L475 555M370 885L500 665M707 305L602 655M1054 418L1015 615M578 1170L635 840M1018 862L1090 828M942 1060L905 990');
svg += mol(hM, 'M580 90L592 45L620 45L633 70L620 115L595 115ZM633 70L660 85L658 130M660 85L690 82M620 115L635 130M730 95L735 65L762 60L765 110L742 130ZM762 60L795 42L802 85L790 112L765 110',
  tint('#d8d85a', 'M690 82L702 110L730 95'));
svg += mol(hM, 'M1035 190L1040 150L1068 145L1080 180L1075 225L1050 222ZM1075 225L1085 255L1115 245L1135 285L1130 325L1095 335L1080 295L1085 255M1095 335L1098 395L1125 398L1135 365L1130 325M1135 285L1165 232L1150 205L1155 165L1185 155L1198 195L1190 232L1165 232');
svg += mol(hM, 'M222 925L260 925L270 990L235 1025L207 985ZM260 925L285 875L322 885L335 945L310 1000L270 990M222 925L208 870', '', '');
svg += mol(hM, 'M480 1248L507 1245L515 1215L540 1215L547 1240L535 1275L510 1278L507 1245M547 1240L570 1240L582 1270L603 1270L612 1232L635 1230L645 1260L635 1297L610 1297L603 1270M582 1270L572 1305M645 1260L665 1262M690 1260L702 1230L722 1245L720 1285L697 1290Z',
  tint('#7ad87a', 'M507 1278L505 1315') + tint('#e0d85a', 'M665 1262L663 1220M665 1262L667 1295M665 1262L690 1260'));
svg += mol(hM, hexD(1170, 715, 16, 32) + 'M1160 745L1135 770L1110 760L1105 805M1135 770L1135 800L1135 870' + hexD(1145, 920, 16, 38) + hexD(1192, 830, 16, 34) + hexD(1238, 818, 16, 34) + hexD(1282, 815, 16, 34) + 'M1135 820L1160 815L1176 830M1208 830L1222 818M1254 818L1266 815M1298 815L1322 815');
svg += mol(hM, 'M943 1085L935 1120L950 1140L945 1175L918 1165L915 1130L935 1120M945 1175L940 1210L968 1220L970 1255L940 1270L933 1240L940 1210M970 1255L985 1285L1010 1265L1022 1295L1020 1330L990 1332L983 1305L985 1285M1010 1265L1012 1222L1028 1170L1045 1160L1050 1120L1075 1115L1080 1150L1058 1175L1045 1160M1080 1150L1105 1155L1115 1125L1140 1140L1140 1175L1112 1183L1105 1155M1112 1183L1100 1220L1128 1235L1125 1290L1095 1310L1070 1285L1072 1240L1100 1220M1128 1245L1140 1245');

document.getElementById('overlay').innerHTML = svg;
</script>
</body>
</html>
